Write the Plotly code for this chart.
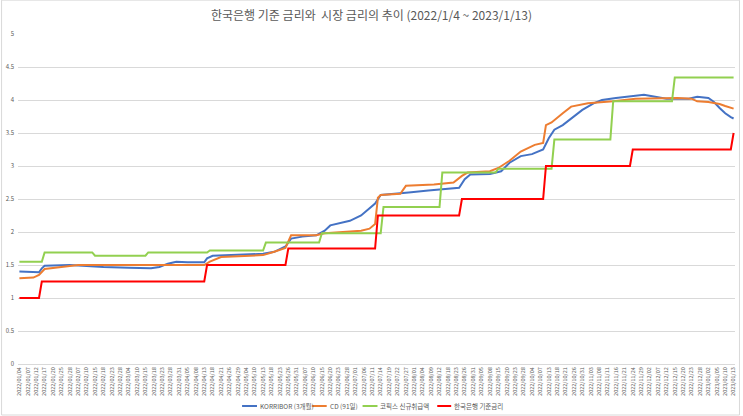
import pandas as pd
import plotly.graph_objects as go

# ---------------- data ----------------
holidays = ["2022-01-31", "2022-02-01", "2022-02-02", "2022-03-01", "2022-03-09",
            "2022-05-05", "2022-06-01", "2022-06-06", "2022-08-15", "2022-09-09",
            "2022-09-12", "2022-10-03", "2022-10-10"]
days = pd.bdate_range("2022-01-04", "2023-01-13")
days = days[~days.isin(pd.to_datetime(holidays))]
dates = [d.strftime("%Y/%m/%d") for d in days]
tick_labels = dates[::3]

base_dates = ["2022/01/04", "2022/01/14", "2022/04/14", "2022/05/26", "2022/07/13",
              "2022/08/25", "2022/10/12", "2022/11/24", "2023/01/13"]
base_vals = [1.00, 1.25, 1.50, 1.75, 2.25, 2.50, 3.00, 3.25, 3.50]

cofix_dates = ["2022/01/04", "2022/01/17", "2022/02/15", "2022/03/16", "2022/04/15",
               "2022/05/16", "2022/06/15", "2022/07/15", "2022/08/16", "2022/09/15",
               "2022/10/17", "2022/11/15", "2022/12/15"]
cofix_vals = [1.55, 1.69, 1.64, 1.69, 1.72, 1.84, 1.98, 2.38, 2.90, 2.96, 3.40, 3.98, 4.34]

koribor_dates = ["2022/01/04", "2022/01/10", "2022/01/13", "2022/01/14", "2022/01/17",
                 "2022/01/28", "2022/02/10", "2022/02/18", "2022/03/04", "2022/03/17",
                 "2022/03/22", "2022/03/25", "2022/03/30", "2022/04/05", "2022/04/13",
                 "2022/04/14", "2022/04/18", "2022/05/02", "2022/05/13", "2022/05/19",
                 "2022/05/25", "2022/05/27", "2022/06/03", "2022/06/13", "2022/06/16",
                 "2022/06/20", "2022/06/23", "2022/06/29", "2022/07/05", "2022/07/08",
                 "2022/07/12", "2022/07/14", "2022/07/20", "2022/07/28", "2022/08/08",
                 "2022/08/18", "2022/08/24", "2022/08/26", "2022/08/30", "2022/09/08",
                 "2022/09/16", "2022/09/21", "2022/09/27", "2022/10/04", "2022/10/11",
                 "2022/10/13", "2022/10/17", "2022/10/20", "2022/10/25", "2022/10/31",
                 "2022/11/04", "2022/11/09", "2022/11/16", "2022/11/23", "2022/11/30",
                 "2022/12/06", "2022/12/12", "2022/12/22", "2022/12/27", "2023/01/02",
                 "2023/01/04", "2023/01/06", "2023/01/10", "2023/01/12", "2023/01/13"]
koribor_vals = [1.40, 1.39, 1.39, 1.45, 1.49,
                1.50, 1.48, 1.47, 1.46, 1.45,
                1.47, 1.52, 1.55, 1.54, 1.54,
                1.60, 1.64, 1.66, 1.67, 1.70,
                1.78, 1.90, 1.93, 1.95, 2.02,
                2.10, 2.13, 2.17, 2.25, 2.35,
                2.43, 2.56, 2.58, 2.60, 2.63,
                2.65, 2.67, 2.80, 2.87, 2.88,
                2.92, 3.05, 3.15, 3.18, 3.25,
                3.42, 3.55, 3.62, 3.72, 3.85,
                3.95, 4.00, 4.03, 4.05, 4.08,
                4.05, 4.02, 4.02, 4.05, 4.03,
                3.97, 3.88, 3.80, 3.74, 3.72]

cd_dates = ["2022/01/04", "2022/01/11", "2022/01/13", "2022/01/17", "2022/01/25",
            "2022/02/07", "2022/04/13", "2022/04/15", "2022/04/21", "2022/05/13",
            "2022/05/19", "2022/05/25", "2022/05/27", "2022/06/13", "2022/06/16",
            "2022/06/24", "2022/07/05", "2022/07/08", "2022/07/12", "2022/07/13",
            "2022/07/14", "2022/07/25", "2022/07/27", "2022/08/10", "2022/08/22",
            "2022/08/25", "2022/08/29", "2022/09/08", "2022/09/15", "2022/09/21",
            "2022/09/27", "2022/10/05", "2022/10/11", "2022/10/12", "2022/10/14",
            "2022/10/20", "2022/10/25", "2022/11/02", "2022/11/15", "2022/11/25",
            "2022/12/16", "2022/12/23", "2022/12/27", "2023/01/02", "2023/01/06",
            "2023/01/10", "2023/01/13"]
cd_vals = [1.30, 1.31, 1.35, 1.44, 1.47,
           1.50, 1.50, 1.55, 1.62, 1.65,
           1.70, 1.76, 1.95, 1.95, 1.98,
           2.00, 2.02, 2.05, 2.12, 2.52,
           2.56, 2.58, 2.70, 2.72, 2.75,
           2.85, 2.90, 2.92, 2.97, 3.08,
           3.22, 3.32, 3.35, 3.62, 3.66,
           3.80, 3.90, 3.95, 3.98, 4.02,
           4.03, 4.02, 3.98, 3.97, 3.94,
           3.91, 3.87]

series_names = ["KORRIBOR (3개월)", "CD (91일)", "코픽스 신규취급액", "한국은행 기준금리"]
series_colors = ["#4472C4", "#ED7D31", "#92D050", "#FF0000"]


def step_fill(ch_dates, ch_vals):
    s = pd.Series(index=dates, dtype=float)
    for d, v in zip(ch_dates, ch_vals):
        s[d] = v
    return s.ffill().tolist()


base_full = step_fill(base_dates, base_vals)
cofix_full = step_fill(cofix_dates, cofix_vals)

# ---------------- figure ----------------
W, H = 743, 416
L, R, T, B = 17, 737, 34.3, 363.6
PW, PH = R - L, B - T


def px(x):
    return (x - L) / PW


def py(y):
    return (B - y) / PH


fig = go.Figure()
traces = [(koribor_dates, koribor_vals), (cd_dates, cd_vals),
          (dates, cofix_full), (dates, base_full)]
for (xs, ys), name, col in zip(traces, series_names, series_colors):
    fig.add_trace(go.Scatter(x=xs, y=ys, mode="lines", name=name,
                             line=dict(color=col, width=2), showlegend=False))

font_main = "Noto Sans CJK KR, Noto Sans, sans-serif"
grey = "#595959"

fig.update_layout(
    width=W, height=H,
    margin=dict(l=L, r=W - R, t=T, b=H - B),
    paper_bgcolor="white", plot_bgcolor="white",
    font=dict(family=font_main, color=grey),
    title=dict(text="한국은행 기준 금리와  시장 금리의 추이 (2022/1/4 ~ 2023/1/13)",
               x=0.5, xanchor="center", y=1 - 16 / H, yanchor="middle",
               font=dict(size=12, color=grey, family=font_main)),
    xaxis=dict(type="category", categoryorder="array", categoryarray=dates,
               range=[-0.5, len(dates) - 0.5],
               tickmode="array", tickvals=tick_labels, ticktext=tick_labels,
               tickangle=-90, tickfont=dict(size=5.5, color=grey),
               showgrid=False, showline=True, linecolor="#d9d9d9", linewidth=1,
               ticks="", zeroline=False),
    yaxis=dict(range=[0, 5], dtick=0.5, tick0=0, showgrid=True,
               gridcolor="#d9d9d9", gridwidth=1, showline=False, zeroline=False,
               ticks="", tickfont=dict(size=6, color=grey), ticklabelstandoff=3),
)

# legend drawn at the bottom
leg_y = py(405.5)
leg_items = [(242, 257), (312, 327), (363, 378), (438, 452)]
for (x0, x1), name, col in zip(leg_items, series_names, series_colors):
    fig.add_shape(type="line", xref="paper", yref="paper",
                  x0=px(x0), x1=px(x1), y0=leg_y, y1=leg_y,
                  line=dict(color=col, width=2))
    fig.add_annotation(xref="paper", yref="paper", x=px(x1 + 1), y=leg_y,
                       text=name, showarrow=False, xanchor="left", yanchor="middle",
                       font=dict(size=6.5, color=grey, family=font_main))

# chart border
fig.add_shape(type="rect", xref="paper", yref="paper",
              x0=px(0.5), x1=px(W - 1.5), y0=py(0.5), y1=py(H - 1.5),
              line=dict(color="#d9d9d9", width=1))

fig.write_html("out.html")
